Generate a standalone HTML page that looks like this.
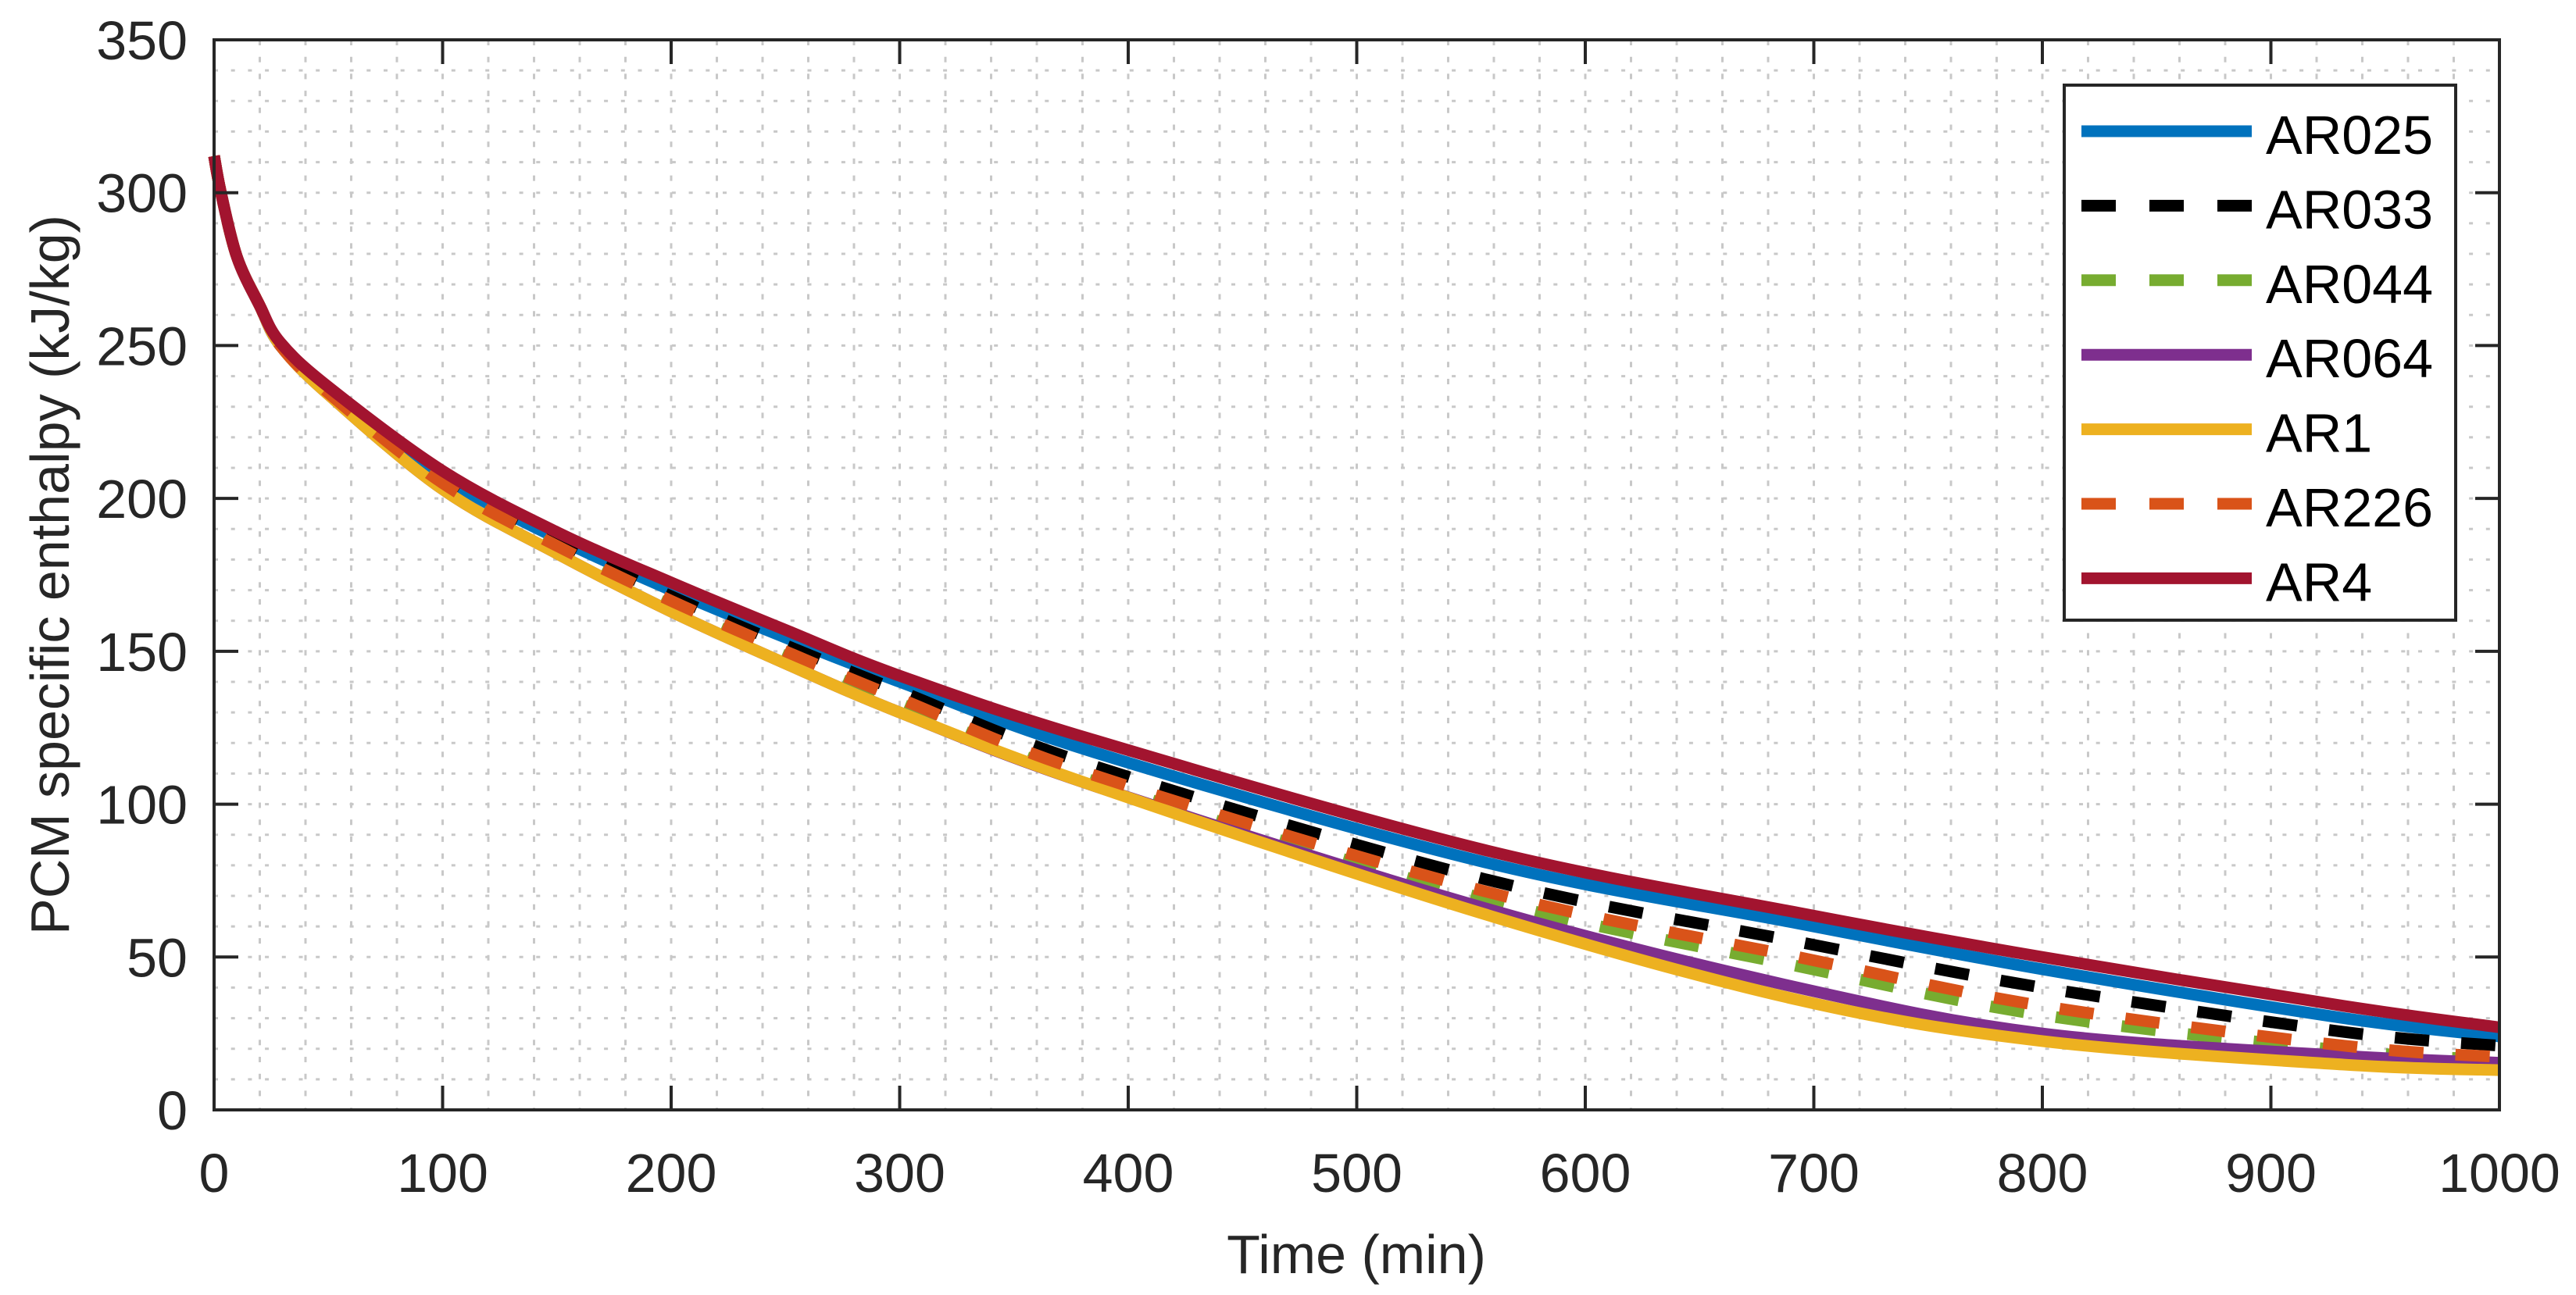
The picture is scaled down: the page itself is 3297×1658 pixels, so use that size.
<!DOCTYPE html>
<html><head><meta charset="utf-8"><style>
html,body{margin:0;padding:0;background:#fff;}
svg{display:block;}
text{font-family:"Liberation Sans",Arial,sans-serif;fill:#262626;}
</style></head><body>
<svg id="chart" width="3297" height="1658" viewBox="0 0 3297 1658" xmlns="http://www.w3.org/2000/svg">
<g id="grid"></g>
<g id="series"></g>
<g id="axes"></g>
<g id="legend"></g>
<text x="1736" y="1630" font-size="70" text-anchor="middle">Time (min)</text>
<text x="0" y="0" font-size="70" text-anchor="middle" transform="translate(88,736) rotate(-90)">PCM specific enthalpy (kJ/kg)</text>
</svg>
<script>
const times = [0,3,10,20,29,50,100,150,200,250,300,385,556,693,800,932,1000];
const seriesNames = ["AR025","AR033","AR044","AR064","AR1","AR226","AR4"];
const ar025 = [312,300,279,263,250,235,207,187,170,154.5,140,117,81,61,46,30,24];
const ar033 = [312,300,279,263,250,235,206,185.5,168,152,137,112.5,75.5,55,40,25.5,21];
const ar044 = [312,300,279,263,250,234.5,204,183.5,165,148.5,133,107.5,69,47,31,19.4,16.4];
const ar064 = [312,300,279,263,250,234,203,182,163,146,130,106,66,40,25,17.7,15.4];
const ar1 = [312,300,279,263,250,234,203,182,163,146,130,106,64,36,22.5,14.8,13];
const ar226 = [312,300,279,263,250,234.5,205,184.5,166.5,150,134.5,109.5,71.5,50,34,21,17.3];
const ar4 = [312,300,279,263,251,236.5,209,189,172.5,157,142,121,85,64.5,50,34,27];
const xTicks = [0,100,200,300,400,500,600,700,800,900,1000];
const yTicks = [0,50,100,150,200,250,300,350];

const NS="http://www.w3.org/2000/svg";
const L=274,R=3199,T=51,B=1421;
const xs=t=>L+(t/1000)*(R-L);
const ys=v=>B-(v/350)*(B-T);
function mk(tag,attrs,parent){const e=document.createElementNS(NS,tag);for(const k in attrs)e.setAttribute(k,attrs[k]);parent.appendChild(e);return e;}

const grid=document.getElementById('grid');
for(let t=20;t<1000;t+=20){
  const g=mk('line',{x1:xs(t),x2:xs(t),y1:T,y2:B,stroke:'#c8c8c8','stroke-width':3,'stroke-dasharray':'7 14.7'},grid);
  
  
}
for(let v=10;v<350;v+=10){
  const g=mk('line',{x1:L,x2:R,y1:ys(v),y2:ys(v),stroke:'#c8c8c8','stroke-width':3,'stroke-dasharray':'5 16.7'},grid);
  
  
}

const styles={AR025:{c:'#0072bd',d:null},AR033:{c:'#000000',d:'44 41'},AR044:{c:'#77ac30',d:'44 41'},AR064:{c:'#7e2f8e',d:null},AR1:{c:'#edb120',d:null},AR226:{c:'#d95319',d:'44 41'},AR4:{c:'#a2142f',d:null}};
const dataMap={AR025:ar025,AR033:ar033,AR044:ar044,AR064:ar064,AR1:ar1,AR226:ar226,AR4:ar4};
function pathFor(vals){
  const p=times.map((t,i)=>[xs(t),ys(vals[i])]);
  let d='M'+p[0][0]+','+p[0][1];
  for(let i=0;i<p.length-1;i++){
    const p0=p[Math.max(0,i-1)],p1=p[i],p2=p[i+1],p3=p[Math.min(p.length-1,i+2)];
    const c1=[p1[0]+(p2[0]-p0[0])/6,p1[1]+(p2[1]-p0[1])/6];
    const c2=[p2[0]-(p3[0]-p1[0])/6,p2[1]-(p3[1]-p1[1])/6];
    d+=' C'+c1[0]+','+c1[1]+' '+c2[0]+','+c2[1]+' '+p2[0]+','+p2[1];
  }
  return d;
}
const sg=document.getElementById('series');
seriesNames.forEach(n=>{
  const s=styles[n];
  const a={d:pathFor(dataMap[n]),fill:'none',stroke:s.c,'stroke-width':15,'stroke-linejoin':'round'};
  if(s.d)a['stroke-dasharray']=s.d;
  const e=mk('path',a,sg);
  
  
});

const ax=document.getElementById('axes');
const box=mk('rect',{x:L,y:T,width:R-L,height:B-T,fill:'none',stroke:'#262626','stroke-width':4},ax);


xTicks.forEach(t=>{
  const x=xs(t);
  mk('line',{x1:x,x2:x,y1:B,y2:B-31,stroke:'#262626','stroke-width':4},ax);
  mk('line',{x1:x,x2:x,y1:T,y2:T+31,stroke:'#262626','stroke-width':4},ax);
  const tx=mk('text',{x:x,y:1526,'font-size':70,'text-anchor':'middle'},ax);
  tx.textContent=t;
  
  
});
yTicks.forEach(v=>{
  const y=ys(v);
  mk('line',{x1:L,x2:L+31,y1:y,y2:y,stroke:'#262626','stroke-width':4},ax);
  mk('line',{x1:R,x2:R-31,y1:y,y2:y,stroke:'#262626','stroke-width':4},ax);
  const tx=mk('text',{x:240,y:y+25,'font-size':70,'text-anchor':'end'},ax);
  tx.textContent=v;
  
  
});

const lg=document.getElementById('legend');
const lb=mk('rect',{x:2642,y:109,width:501,height:685,fill:'#fff',stroke:'#262626','stroke-width':4},lg);


seriesNames.forEach((n,i)=>{
  const y=168+i*95.4;const s=styles[n];
  const a={x1:2664,x2:2882,y1:y,y2:y,stroke:s.c,'stroke-width':15};
  if(s.d)a['stroke-dasharray']='44 43';
  const ln=mk('line',a,lg);
  
  
  const tx=mk('text',{x:2900,y:y+29,'font-size':70,style:'fill:#000'},lg);
  tx.textContent=n;
  
  
});
</script>
</body></html>
